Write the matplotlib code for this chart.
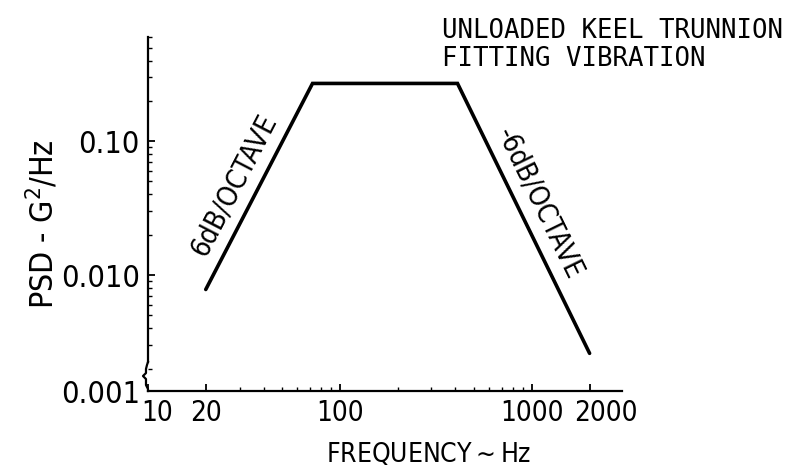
import numpy as np
import matplotlib
matplotlib.use("Agg")
import matplotlib.pyplot as plt
import matplotlib.transforms as mtransforms
from matplotlib.ticker import FixedLocator, FixedFormatter, LogLocator, NullFormatter

# PSD profile
freq = [20, 72, 410, 2000]
psd = [0.0078, 0.27, 0.27, 0.0026]

x_ticks = [10, 20, 100, 1000, 2000]
x_labels = ["10", "20", "100", "1000", "2000"]
y_bottom = 0.00136          # axis is broken here, labelled 0.001
y_ticks = [y_bottom, 0.01, 0.1]
y_labels = ["0.001", "0.010", "0.10"]

plt.rcParams["font.family"] = ["DejaVu Sans"]
plt.rcParams["font.stretch"] = "condensed"

fig = plt.figure(figsize=(8.06, 4.68), dpi=100)
ax = fig.add_axes([0.1836, 0.1645, 0.5881, 0.7564])

ax.plot(freq, psd, color="black", lw=2.6, solid_joinstyle="miter", solid_capstyle="round")

ax.set_xscale("log")
ax.set_yscale("log")
ax.set_xlim(10, 2950)
ax.set_ylim(y_bottom, 0.6)

ax.xaxis.set_major_locator(FixedLocator(x_ticks))
ax.xaxis.set_major_formatter(FixedFormatter(x_labels))
ax.xaxis.set_minor_locator(LogLocator(base=10, subs=np.arange(2, 10)))
ax.xaxis.set_minor_formatter(NullFormatter())
ax.yaxis.set_major_locator(FixedLocator(y_ticks))
ax.yaxis.set_major_formatter(FixedFormatter(y_labels))
ax.yaxis.set_minor_locator(LogLocator(base=10, subs=np.arange(2, 10)))
ax.yaxis.set_minor_formatter(NullFormatter())

ax.tick_params(axis="both", which="major", direction="in", length=5, width=1.3)
ax.tick_params(axis="both", which="minor", direction="in", length=3, width=1.0)
ax.tick_params(axis="x", labelsize=20, pad=6)
ax.tick_params(axis="y", labelsize=22, pad=6)
ax.yaxis.get_major_ticks()[0].tick1line.set_visible(False)

# the drawing nudges the "10" and "2000" labels to the right
for lab, dx in [(0, 9), (4, 16)]:
    t = ax.xaxis.get_major_ticks()[lab].label1
    t.set_transform(t.get_transform() + mtransforms.ScaledTranslation(dx / 100, 0, fig.dpi_scale_trans))

for s in ["top", "right"]:
    ax.spines[s].set_visible(False)
for s in ["left", "bottom"]:
    ax.spines[s].set_linewidth(1.6)
ax.spines["left"].set_bounds(0.00224, 0.6)

# break mark at the bottom of the y axis
w, h = 474.0, 354.0
bx = np.array([0, -1, -2, -2, -5, -2, -2, 0, 0]) / w
by = np.array([29, 26, 22, 18, 15, 12, 6, 2, 0]) / h
ax.plot(bx, by, color="black", lw=1.6, transform=ax.transAxes, clip_on=False)

# slope labels, rotated along the lines
fig.canvas.draw()
p = ax.transData.transform(list(zip(freq, psd)))
ang_up = np.degrees(np.arctan2(p[1, 1] - p[0, 1], p[1, 0] - p[0, 0]))
ang_dn = np.degrees(np.arctan2(p[3, 1] - p[2, 1], p[3, 0] - p[2, 0]))
ax.text(28.0, 0.047, "6dB/OCTAVE", rotation=ang_up, rotation_mode="anchor",
        ha="center", va="center", fontsize=20)
ax.text(1090, 0.034, "-6dB/OCTAVE", rotation=ang_dn, rotation_mode="anchor",
        ha="center", va="center", fontsize=20)

fig.text(0.548, 0.962, "UNLOADED KEEL TRUNNION\nFITTING VIBRATION",
         family="DejaVu Sans Mono", fontsize=18.5, ha="left", va="top", linespacing=1.1)
fig.text(0.053, 0.52, "PSD - G$^2$/Hz", rotation=90, fontsize=23, ha="center", va="center")
fig.text(0.532, 0.028, "FREQUENCY$\\sim$Hz", fontsize=19, ha="center", va="center")

fig.savefig("out.png", dpi=100)
